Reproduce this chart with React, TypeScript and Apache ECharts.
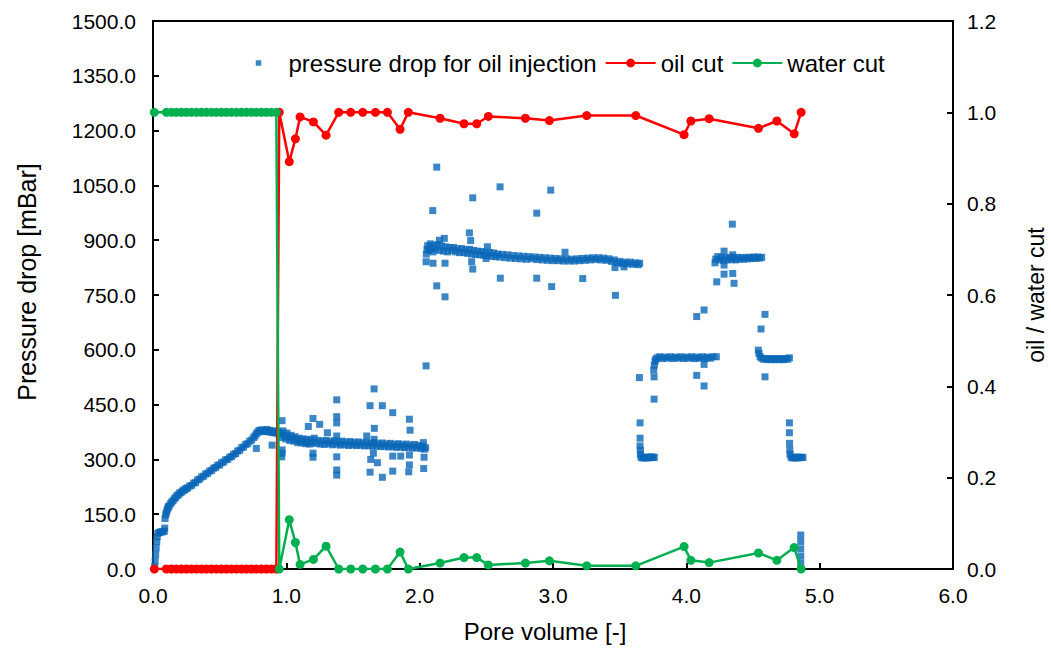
import React, { useEffect, useRef } from "react";
import * as echarts from "echarts";

const FONT = "Liberation Sans";

// ---- pressure drop for oil injection: [pore volume, mBar] ----
const pdStart: [number, number][] = [
  [0.012, 6], [0.016, 22], [0.02, 40], [0.024, 58], [0.028, 75], [0.032, 88], [0.036, 97],
  [0.045, 100], [0.055, 101], [0.065, 102], [0.075, 102], [0.085, 104], [0.088, 112],
];
const pdRise: [number, number][] = [
  [0.09, 138], [0.095, 148], [0.1, 154], [0.105, 160], [0.11, 166], [0.115, 170], [0.12, 172],
  [0.13, 178], [0.14, 183], [0.15, 187], [0.16, 192], [0.17, 196], [0.18, 201], [0.19, 203],
  [0.2, 208], [0.21, 209], [0.22, 213], [0.23, 216], [0.24, 217], [0.25, 221], [0.26, 222],
  [0.275, 227], [0.29, 229], [0.305, 235], [0.32, 237], [0.335, 244], [0.35, 246], [0.365, 252],
  [0.38, 254], [0.395, 260], [0.41, 262], [0.425, 268], [0.44, 270], [0.455, 276], [0.47, 278],
  [0.485, 284], [0.5, 285], [0.515, 291], [0.53, 293], [0.545, 299], [0.56, 300], [0.575, 306],
  [0.59, 308], [0.605, 314], [0.62, 316], [0.635, 323], [0.65, 325], [0.665, 332], [0.68, 334],
  [0.695, 341], [0.71, 343], [0.725, 350], [0.74, 353], [0.755, 360], [0.765, 364], [0.775, 370],
  [0.785, 374], [0.795, 379],
];
const pdPlateau: [number, number][] = [
  [0.805, 378], [0.815, 381], [0.825, 376], [0.835, 380], [0.845, 377], [0.855, 382], [0.865, 376],
  [0.875, 379], [0.885, 374], [0.895, 378], [0.905, 373], [0.915, 377], [0.925, 372], [0.935, 376],
  [0.945, 370], [0.775, 330], [0.893, 339], [0.968, 406], [0.968, 317], [0.968, 326], [0.965, 307],
];
const pdNoisy: [number, number][] = [
  [0.955, 372], [0.965, 360], [0.975, 378], [0.985, 366], [0.995, 356], [1.005, 372], [1.015, 362],
  [1.025, 352], [1.035, 366], [1.045, 358], [1.055, 350], [1.065, 362], [1.075, 354], [1.085, 346],
  [1.095, 358], [1.105, 351], [1.115, 345], [1.125, 356], [1.135, 349], [1.145, 343], [1.155, 355],
  [1.165, 347], [1.175, 342], [1.185, 354], [1.195, 346], [1.21, 358], [1.225, 344], [1.24, 352],
  [1.255, 342], [1.27, 350], [1.285, 341], [1.3, 352], [1.315, 343], [1.33, 349], [1.345, 340],
  [1.36, 351], [1.375, 342], [1.39, 348], [1.405, 339], [1.42, 350], [1.435, 341], [1.45, 347],
  [1.465, 338], [1.48, 349], [1.495, 340], [1.51, 346], [1.525, 338], [1.54, 348], [1.555, 339],
  [1.57, 345], [1.585, 337], [1.6, 347], [1.615, 338], [1.63, 344], [1.645, 336], [1.66, 346],
  [1.675, 337], [1.69, 343], [1.705, 335], [1.72, 345], [1.735, 336], [1.75, 342], [1.765, 334],
  [1.78, 344], [1.795, 335], [1.81, 341], [1.825, 333], [1.84, 343], [1.855, 334], [1.87, 340],
  [1.885, 332], [1.9, 342], [1.915, 333], [1.93, 339], [1.945, 331], [1.96, 341], [1.975, 332],
  [1.99, 338], [2.005, 330], [2.02, 336], [2.035, 328], [2.045, 332],
];
const pdNoisyOutliers: [number, number][] = [
  [1.2, 412], [1.25, 396], [1.165, 390], [1.2, 317], [1.2, 306], [1.378, 463], [1.378, 417],
  [1.378, 400], [1.378, 364], [1.378, 307], [1.378, 271], [1.378, 257], [1.308, 373], [1.658, 493],
  [1.628, 447], [1.72, 447], [1.798, 428], [1.66, 385], [1.633, 300], [1.683, 291], [1.653, 317],
  [1.628, 265], [1.72, 251], [1.798, 268], [1.798, 309], [1.858, 309], [1.923, 410], [1.928, 380],
  [1.923, 312], [1.923, 285], [1.918, 266], [2.028, 346], [2.033, 306], [2.03, 275], [2.048, 556],
  [1.603, 364], [1.658, 355],
];
const pdHigh: [number, number][] = [
  [2.048, 841], [2.05, 862], [2.055, 875], [2.06, 885], [2.07, 872], [2.08, 890], [2.09, 878],
  [2.1, 868], [2.11, 886], [2.12, 876], [2.135, 888], [2.15, 872], [2.165, 884], [2.18, 870],
  [2.195, 882], [2.21, 868], [2.225, 880], [2.24, 872], [2.255, 880], [2.27, 868], [2.285, 876],
  [2.3, 866], [2.315, 877], [2.33, 866], [2.345, 874], [2.36, 864], [2.375, 875], [2.39, 862],
  [2.405, 872], [2.42, 861], [2.435, 870], [2.45, 860], [2.465, 869], [2.48, 859], [2.495, 867],
  [2.51, 858], [2.525, 866], [2.54, 856], [2.555, 865], [2.57, 855], [2.585, 862], [2.6, 854],
  [2.62, 861], [2.64, 852], [2.66, 860], [2.68, 851], [2.7, 858], [2.72, 850], [2.74, 857],
  [2.76, 849], [2.78, 856], [2.8, 848], [2.82, 855], [2.84, 849], [2.86, 854], [2.88, 847],
  [2.9, 853], [2.92, 846], [2.94, 852], [2.96, 845], [2.98, 851], [3.0, 844], [3.02, 850],
  [3.04, 844], [3.06, 849], [3.08, 843], [3.1, 849], [3.12, 843], [3.14, 848], [3.16, 843],
  [3.18, 849], [3.2, 844], [3.22, 850], [3.24, 845], [3.26, 851], [3.28, 846], [3.3, 852],
  [3.32, 847], [3.34, 852], [3.36, 846], [3.38, 851], [3.4, 845], [3.42, 849], [3.44, 842],
  [3.46, 846], [3.48, 838], [3.5, 842], [3.52, 836], [3.54, 840], [3.56, 835], [3.58, 840],
  [3.6, 834], [3.62, 838], [3.64, 833], [3.65, 837],
];
const pdHighOutliers: [number, number][] = [
  [2.128, 1100], [2.098, 981], [2.398, 1016], [2.603, 1046], [2.983, 1037], [2.878, 974],
  [2.373, 920], [2.383, 899], [2.185, 905], [2.148, 900], [2.1, 837], [2.19, 837], [2.39, 841],
  [2.398, 821], [2.128, 775], [2.19, 745], [2.508, 882], [2.498, 850], [2.605, 796], [2.878, 796],
  [2.99, 773], [3.09, 867], [3.223, 795], [3.468, 749], [3.465, 825], [3.532, 827],
];
const pdLow1: [number, number][] = [
  [3.648, 524], [3.653, 400], [3.653, 358], [3.653, 337], [3.655, 325], [3.656, 314],
  [3.66, 306], [3.67, 304], [3.68, 306], [3.69, 304], [3.7, 306], [3.71, 304], [3.72, 306],
  [3.73, 305], [3.74, 307], [3.75, 305], [3.76, 306],
];
const pdMid1: [number, number][] = [
  [3.758, 465], [3.758, 526], [3.755, 545], [3.76, 558], [3.765, 568], [3.77, 574],
  [3.78, 578], [3.8, 581], [3.82, 576], [3.84, 580], [3.86, 577], [3.88, 581], [3.9, 576],
  [3.92, 580], [3.94, 577], [3.96, 581], [3.98, 576], [4.0, 580], [4.02, 577], [4.04, 581],
  [4.06, 576], [4.08, 580], [4.1, 577], [4.12, 581], [4.14, 576], [4.16, 580], [4.18, 577],
  [4.2, 581], [4.225, 581], [4.078, 691], [4.133, 709], [4.078, 530], [4.133, 501], [4.133, 560],
];
const pdHigh2: [number, number][] = [
  [4.215, 838], [4.22, 848], [4.235, 855], [4.25, 846], [4.265, 853], [4.28, 845], [4.295, 852],
  [4.31, 846], [4.325, 853], [4.34, 847], [4.355, 852], [4.37, 846], [4.385, 853], [4.4, 848],
  [4.415, 852], [4.43, 848], [4.445, 853], [4.46, 849], [4.475, 853], [4.49, 850], [4.505, 854],
  [4.52, 850], [4.535, 854], [4.55, 851], [4.565, 853],
  [4.345, 944], [4.283, 870], [4.348, 860], [4.283, 807], [4.348, 809], [4.228, 786],
  [4.358, 782], [4.283, 832],
];
const pdMid2: [number, number][] = [
  [4.54, 599], [4.545, 590], [4.553, 581], [4.565, 577], [4.58, 574], [4.595, 576], [4.61, 573],
  [4.625, 576], [4.64, 573], [4.655, 576], [4.67, 573], [4.685, 576], [4.7, 573], [4.715, 576],
  [4.73, 573], [4.745, 576], [4.76, 574], [4.773, 578], [4.59, 697], [4.56, 657], [4.59, 526],
];
const pdLow2: [number, number][] = [
  [4.773, 400], [4.773, 373], [4.774, 344], [4.776, 326], [4.778, 314], [4.785, 306],
  [4.795, 304], [4.805, 306], [4.815, 304], [4.825, 306], [4.835, 304], [4.845, 306],
  [4.855, 305], [4.865, 306], [4.875, 305],
  [4.858, 93], [4.858, 75], [4.858, 55], [4.858, 35], [4.858, 16],
];

// ---- oil cut / water cut ----
const cutPV = [
  0.01, 0.1, 0.138, 0.175, 0.213, 0.25, 0.288, 0.325, 0.363, 0.4, 0.438, 0.475, 0.513, 0.55,
  0.588, 0.625, 0.663, 0.7, 0.738, 0.775, 0.813, 0.85, 0.888, 0.925, 0.947,
  1.022, 1.068, 1.103, 1.203, 1.298, 1.393, 1.483, 1.573, 1.668, 1.758, 1.853, 1.915, 2.153,
  2.333, 2.428, 2.515, 2.793, 2.973, 3.253, 3.621, 3.983, 4.034, 4.171, 4.541, 4.679, 4.809, 4.861,
];
const oilCut = [
  0, 0, 0, 0, 0, 0, 0, 0, 0, 0, 0, 0, 0, 0, 0, 0, 0, 0, 0, 0, 0, 0, 0, 0, 1.0,
  0.892, 0.942, 0.99, 0.979, 0.95, 1.0, 1.0, 1.0, 1.0, 1.0, 0.963, 1.0, 0.987,
  0.975, 0.975, 0.991, 0.987, 0.982, 0.993, 0.993, 0.951, 0.981, 0.986, 0.965, 0.981, 0.953, 1.0,
];
const waterCut = [
  1, 1, 1, 1, 1, 1, 1, 1, 1, 1, 1, 1, 1, 1, 1, 1, 1, 1, 1, 1, 1, 1, 1, 1, 0,
  0.108, 0.058, 0.01, 0.021, 0.05, 0, 0, 0, 0, 0, 0.037, 0, 0.013,
  0.025, 0.025, 0.009, 0.013, 0.018, 0.007, 0.007, 0.049, 0.019, 0.014, 0.035, 0.019, 0.047, 0,
];

const xTickLabels = ["0.0", "1.0", "2.0", "3.0", "4.0", "5.0", "6.0"];

export default function App() {
  const ref = useRef<HTMLDivElement>(null);
  useEffect(() => {
    if (!ref.current) return;
    const chart = echarts.init(ref.current, undefined, { renderer: "svg" });
    const pressure = [
      ...pdStart, ...pdRise, ...pdPlateau, ...pdNoisy, ...pdNoisyOutliers, ...pdHigh,
      ...pdHighOutliers, ...pdLow1, ...pdMid1, ...pdHigh2, ...pdMid2, ...pdLow2,
    ];
    const oil = cutPV.map((x, i) => [x, oilCut[i]]);
    const water = cutPV.map((x, i) => [x, waterCut[i]]);
    const txt = { color: "#000", fontFamily: FONT, fontSize: 21 };
    const axisLine = { show: true, onZero: false, lineStyle: { color: "#000", width: 2 } };
    const axisTick = { show: true, inside: true, length: 6, lineStyle: { color: "#000", width: 2 } };
    chart.setOption({
      animation: false,
      textStyle: { fontFamily: FONT },
      grid: {
        left: 153, right: 98, top: 21, bottom: 81,
        show: true, borderColor: "#000", borderWidth: 2, backgroundColor: "transparent",
        outerBoundsMode: "none",
      },
      legend: {
        top: 46, left: 248,
        itemWidth: 50, itemHeight: 11, itemGap: 8,
        textStyle: { ...txt, fontSize: 24 },
        data: [
          { name: "pressure drop for oil injection", icon: "path://M0,0M12,12M3,3h6v6h-6z" },
          { name: "oil cut" },
          { name: "water cut" },
        ],
      },
      xAxis: {
        type: "value", min: 0, max: 6, interval: 1,
        axisLine, axisTick, splitLine: { show: false },
        axisLabel: { ...txt, margin: 16, formatter: (v: number) => xTickLabels[Math.round(v)] },
        name: "Pore volume [-]", nameLocation: "middle", nameGap: 50,
        nameTextStyle: { ...txt, fontSize: 24, padding: [0, 16, 0, 0] },
      },
      yAxis: [
        {
          type: "value", min: 0, max: 1500, interval: 150, position: "left",
          axisLine, axisTick, splitLine: { show: false },
          axisLabel: { ...txt, margin: 17, formatter: (v: number) => v.toFixed(1) },
          name: "Pressure drop [mBar]", nameLocation: "middle", nameGap: 114, nameRotate: 90,
          nameTextStyle: { ...txt, fontSize: 25, padding: [0, 0, 0, 26] },
        },
        {
          type: "value", min: 0, max: 1.2, interval: 0.2, position: "right",
          axisLine, axisTick, splitLine: { show: false },
          axisLabel: { ...txt, margin: 14, formatter: (v: number) => v.toFixed(1) },
          name: "oil / water cut", nameLocation: "middle", nameGap: 71, nameRotate: 90,
          nameTextStyle: { ...txt, fontSize: 23 },
        },
      ],
      series: [
        {
          name: "pressure drop for oil injection", type: "scatter", yAxisIndex: 0,
          symbol: "rect", symbolSize: 7, itemStyle: { color: "#0B68B8" },
          data: pressure, z: 2,
        },
        {
          name: "oil cut", type: "line", yAxisIndex: 1, symbol: "circle", symbolSize: 9,
          lineStyle: { color: "#FF0000", width: 2.5 }, itemStyle: { color: "#FF0000" },
          data: oil, z: 3,
        },
        {
          name: "water cut", type: "line", yAxisIndex: 1, symbol: "circle", symbolSize: 9,
          lineStyle: { color: "#00B050", width: 2.5 }, itemStyle: { color: "#00B050" },
          data: water, z: 4,
        },
      ],
    });
    return () => chart.dispose();
  }, []);
  return (
    <div
      ref={ref}
      style={{ position: "absolute", left: 0, top: 0, width: 1051, height: 650 }}
    />
  );
}
